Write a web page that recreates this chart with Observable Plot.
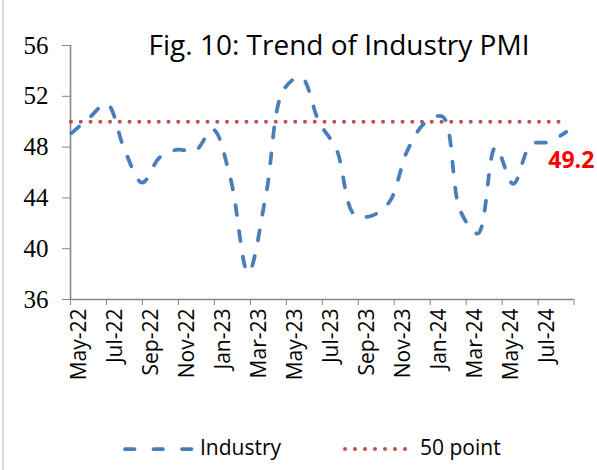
<!DOCTYPE html>
<html><head><meta charset="utf-8">
<script src="https://cdn.jsdelivr.net/npm/d3@7"></script>
<script src="https://cdn.jsdelivr.net/npm/@observablehq/plot@0.6"></script>
<style>
body{margin:0;background:#fff;}
#wrap{position:relative;width:597px;height:470px;overflow:hidden;font-family:"Open Sans",sans-serif;background:#fff;}
#chart{position:absolute;left:0;top:0;}
#border{position:absolute;left:2px;top:0;width:2px;height:470px;background:#d9d9d9;}
#title{position:absolute;left:339px;top:30px;transform:translateX(-50%);font-size:28px;line-height:1;white-space:nowrap;color:#000;}
.lg{position:absolute;font-size:21px;line-height:1;white-space:nowrap;color:#000;top:437px;}
#legsvg{position:absolute;left:0;top:430px;}
</style></head><body>
<div id="wrap"><div id="chart"></div><div id="border"></div><div id="title">Fig. 10: Trend of Industry PMI</div>
<svg id="legsvg" width="597" height="40"></svg>
<div class="lg" id="lg1" style="left:200px">Industry</div>
<div class="lg" id="lg2" style="left:420px">50 point</div>
</div>
<script>
const months = ["May-22","Jun-22","Jul-22","Aug-22","Sep-22","Oct-22","Nov-22","Dec-22",
  "Jan-23","Feb-23","Mar-23","Apr-23","May-23","Jun-23","Jul-23","Aug-23","Sep-23","Oct-23","Nov-23","Dec-23",
  "Jan-24","Feb-24","Mar-24","Apr-24","May-24","Jun-24","Jul-24","Aug-24","Sep-24"];
const industry = [49.1, 50.3, 51.4, 47.8, 45.2, 47.2, 47.8, 47.7, 49.4, 45.5, 38.1, 44.2, 52.5, 53.5,
  50.0, 47.8, 42.7, 42.6, 43.7, 47.7, 49.9, 50.4, 43.0, 41.2, 48.0, 45.1, 48.2, 48.4, 49.2];
const threshold = 50;
const yTicks = [36, 40, 44, 48, 52, 56];
const tickLabels = ["May-22","Jul-22","Sep-22","Nov-22","Jan-23","Mar-23","May-23","Jul-23",
  "Sep-23","Nov-23","Jan-24","Mar-24","May-24","Jul-24"];
const lastLabel = "49.2";

const blue = "#4a7ebb", red = "#c0504d", axisGray = "#868686";
// axis month slots, expressed in point-index units
const nSlots = 28;
const slot = 28.5 / 28;
const x0 = -0.057;
const tickPos = d3.range(0, nSlots + 1, 2).map(m => x0 + m * slot);
const labelPos = tickLabels.map(l => x0 + (months.indexOf(l) + 0.5) * slot);
const last = industry.length - 1;

const chart = Plot.plot({
  width: 597,
  height: 400,
  marginTop: 45,
  marginBottom: 101,
  marginLeft: 70,
  marginRight: 23.4,
  style: {fontFamily: "Open Sans", fontSize: "21px", background: "transparent", overflow: "visible", color: "#000"},
  x: {domain: [x0, x0 + nSlots * slot], axis: null},
  y: {domain: [yTicks[0], yTicks[yTicks.length - 1]], axis: null},
  marks: [
    Plot.axisY({ticks: yTicks, tickSize: 8, tickPadding: 14, stroke: axisGray, fill: "#000",
      fontSize: 25, fontFamily: "Liberation Serif", tickFormat: d => String(d)}),
    Plot.axisX({ticks: tickPos, tickSize: 6, stroke: axisGray, tickFormat: () => ""}),
    Plot.ruleX([x0], {stroke: axisGray, strokeWidth: 1.6}),
    Plot.ruleY([yTicks[0]], {stroke: axisGray, strokeWidth: 1.6}),
    Plot.text(tickLabels, {x: (d, i) => labelPos[i], frameAnchor: "bottom", rotate: -90,
      textAnchor: "end", dx: 7, dy: 9, fontSize: 21, fill: "#000", text: d => d}),
    Plot.line(industry, {x: (d, i) => i, y: d => d, curve: "catmull-rom", stroke: blue,
      strokeWidth: 3.75, strokeDasharray: "10,16", strokeLinecap: "round"}),
    Plot.ruleY([threshold], {x1: 0, x2: last, stroke: red, strokeWidth: 4,
      strokeDasharray: "0,9.75", strokeLinecap: "round"}),
    Plot.text([industry[last]], {x: last, y: d => d, text: () => lastLabel, textAnchor: "start",
      dx: -18, dy: 29, fill: "#ff0000", fontWeight: "bold", fontSize: 23})
  ]
});
document.getElementById("chart").appendChild(chart);

// legend swatches
const ls = d3.select("#legsvg");
ls.append("line").attr("x1", 125).attr("x2", 192).attr("y1", 19).attr("y2", 19)
  .attr("stroke", blue).attr("stroke-width", 3.75).attr("stroke-dasharray", "9.5,19").attr("stroke-linecap", "round");
ls.append("line").attr("x1", 345).attr("x2", 406).attr("y1", 19).attr("y2", 19)
  .attr("stroke", red).attr("stroke-width", 4).attr("stroke-dasharray", "0,10").attr("stroke-linecap", "round");
</script>
</body></html>
